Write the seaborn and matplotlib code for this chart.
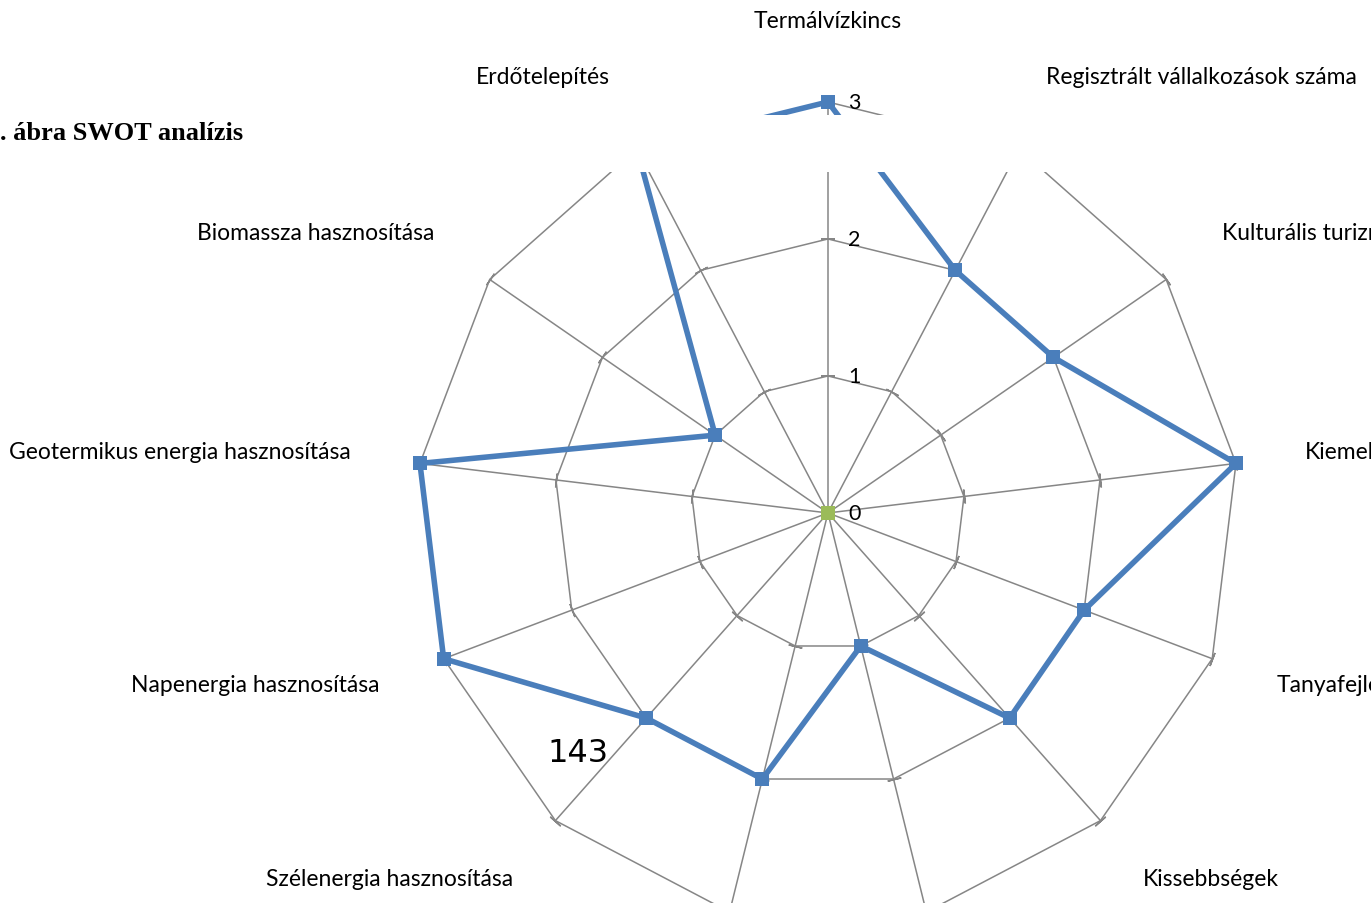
import numpy as np
import pandas as pd
import matplotlib.pyplot as plt
import matplotlib.transforms as mtransforms
from matplotlib.patches import Rectangle
import seaborn as sns

# adatok - kategóriák az óramutató járása szerint, felülről indulva
categories = ['Termálvízkincs', 'Regisztrált vállalkozások száma', 'Kulturális turizmus',
              'Kiemelt', 'Tanyafejlesztés', 'Kissebbségek', '', '',
              'Szélenergia hasznosítása', 'Napenergia hasznosítása',
              'Geotermikus energia hasznosítása', 'Biomassza hasznosítása', 'Erdőtelepítés']
values = [3, 2, 2, 3, 2, 2, 1, 2, 2, 3, 3, 1, 3]
values_zero = [0, 0, 0, 0, 0, 0, 0, 0, 0, 0, 0, 0, 0]
rings = [1, 2, 3]
tick_values = [0, 1, 2, 3]

sns.set_style('white')
plt.rcParams['font.family'] = ['Lato', 'DejaVu Sans']
plt.rcParams['text.color'] = 'black'

blue = '#4A7EBB'
green = '#9BBB59'
grid = '#868686'

n = len(categories)
theta = np.linspace(0, 2 * np.pi, n, endpoint=False)

fig = plt.figure(figsize=(13.71, 9.04), dpi=100)
ax = fig.add_axes([0.3041, -0.0232, 0.5996, 0.9093], projection='polar')
ax.set_theta_zero_location('N')
ax.set_theta_direction(-1)
ax.set_ylim(0, 3)
ax.set_axis_off()

# háló: sokszög alakú gyűrűk és küllők
closed_theta = np.append(theta, theta[0])
for r in rings:
    ax.plot(closed_theta, [r] * (n + 1), color=grid, lw=1.1, clip_on=False, zorder=1)
for i, t in enumerate(theta):
    ax.plot([t, t], [0, rings[-1]], color=grid, lw=1.1, clip_on=False, zorder=1)
    # kis jelölők a csúcsokon
    ang = 90 - np.degrees(t)
    ax.plot([t] * len(rings), rings, linestyle='none', color=grid,
            marker=(2, 2, ang), ms=10, mew=1.1, clip_on=False, zorder=1)

# adatsor
df = pd.DataFrame({'theta': closed_theta, 'value': values + [values[0]]})
sns.lineplot(data=df, x='theta', y='value', sort=False, estimator=None, ax=ax,
             color=blue, lw=4, marker='s', markersize=9.5, markeredgewidth=0,
             clip_on=False, zorder=3, legend=False)
ax.plot(theta, values_zero, linestyle='none', marker='s', color=green, ms=10.5,
        mew=0, clip_on=False, zorder=4)
ax.set_xlabel('')
ax.set_ylabel('')
ax.set_axis_off()

# tengely feliratok
off = mtransforms.offset_copy(ax.transData, fig=fig, x=20, y=0, units='dots')
for v in tick_values:
    ax.text(0, v, str(v), transform=off, ha='left', va='center', fontsize=15.5,
            color='black', clip_on=False)

# kategória feliratok
for t, lab in zip(theta, categories):
    s = np.sin(t)
    if abs(s) < 0.3:
        ha, dx = 'center', 0
    elif s > 0:
        ha, dx = 'left', -10
    else:
        ha, dx = 'right', 10
    tr = mtransforms.offset_copy(ax.transData, fig=fig, x=dx, y=2, units='dots')
    ax.text(t, 3.58, lab, transform=tr, ha=ha, va='center', fontsize=16.5,
            color='black', clip_on=False)

# fehér sáv a cím alatt
fig.patches.append(Rectangle((0, (904 - 173) / 904), 1, 57 / 904, transform=fig.transFigure,
                             facecolor='white', edgecolor='none', zorder=10))
fig.text(0.0, (904 - 133) / 904, '. ábra SWOT analízis', ha='left', va='center',
         fontsize=19, fontweight='bold', family='Liberation Serif', color='black', zorder=11)
fig.text(578 / 1371, (904 - 754) / 904, '143', ha='center', va='center',
         fontsize=23, family='DejaVu Sans', color='black')

fig.savefig('out.png', dpi=100)
